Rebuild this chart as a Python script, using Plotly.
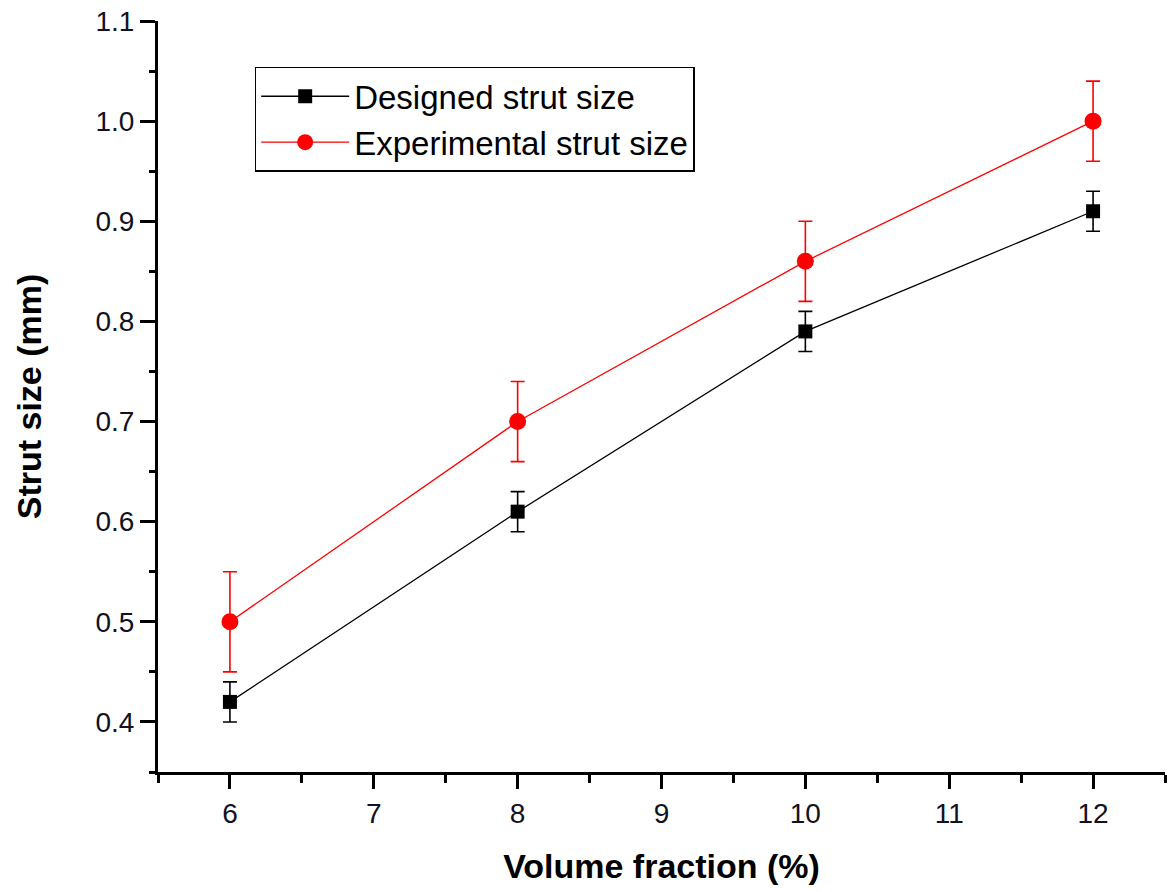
import plotly.graph_objects as go

volume_fraction = [6, 8, 10, 12]
designed = [0.42, 0.61, 0.79, 0.91]
designed_err = [0.02, 0.02, 0.02, 0.02]
experimental = [0.50, 0.70, 0.86, 1.00]
experimental_err = [0.05, 0.04, 0.04, 0.04]

fig = go.Figure()
fig.add_trace(go.Scatter(
    x=volume_fraction, y=designed, name="Designed strut size",
    mode="lines+markers",
    line=dict(color="black", width=1.3),
    marker=dict(symbol="square", size=14, color="black"),
    error_y=dict(type="data", array=designed_err, visible=True,
                 color="black", thickness=1.6, width=7),
))
fig.add_trace(go.Scatter(
    x=volume_fraction, y=experimental, name="Experimental strut size",
    mode="lines+markers",
    line=dict(color="red", width=1.3),
    marker=dict(symbol="circle", size=17, color="red"),
    error_y=dict(type="data", array=experimental_err, visible=True,
                 color="red", thickness=1.6, width=7),
))

FONT = "Arial, Liberation Sans, sans-serif"
tickfont = dict(family=FONT, size=28, color="#111122")
fig.update_layout(
    width=1172, height=892,
    paper_bgcolor="white", plot_bgcolor="white",
    margin=dict(l=158, r=7, t=21, b=120),
    showlegend=True,
    legend=dict(
        x=0.096, y=0.939, xanchor="left", yanchor="top",
        bgcolor="white", bordercolor="black", borderwidth=1.5,
        font=dict(family=FONT, size=33, color="black"),
        tracegroupgap=0, itemwidth=88,
    ),
    xaxis=dict(
        range=[5.5, 12.5], dtick=1, tick0=6, automargin=False,
        showline=True, linecolor="black", linewidth=3,
        ticks="outside", ticklen=14, tickwidth=3, tickcolor="black",
        minor=dict(dtick=0.5, tick0=5.5, ticks="outside", ticklen=8, tickwidth=3, tickcolor="black"),
        showgrid=False, zeroline=False,
        tickfont=tickfont,
        title=dict(text="<b>Volume fraction (%)</b>", standoff=27,
                   font=dict(family=FONT, size=34, color="black")),
    ),
    yaxis=dict(
        range=[0.35, 1.1], dtick=0.1, tick0=0.4, tickformat=".1f", automargin=False,
        showline=True, linecolor="black", linewidth=3,
        ticks="outside", ticklen=15, tickwidth=3, tickcolor="black",
        minor=dict(dtick=0.05, tick0=0.35, ticks="outside", ticklen=6, tickwidth=3, tickcolor="black"),
        showgrid=False, zeroline=False,
        tickfont=tickfont,
        title=dict(text="<b>Strut size (mm)</b>", standoff=44,
                   font=dict(family=FONT, size=34, color="black")),
    ),
)

# remove the default 8px page margin so the figure sits at the window's corner
fig.write_html("out.html", config={"displayModeBar": False},
               post_script="document.body.style.margin='0';")
